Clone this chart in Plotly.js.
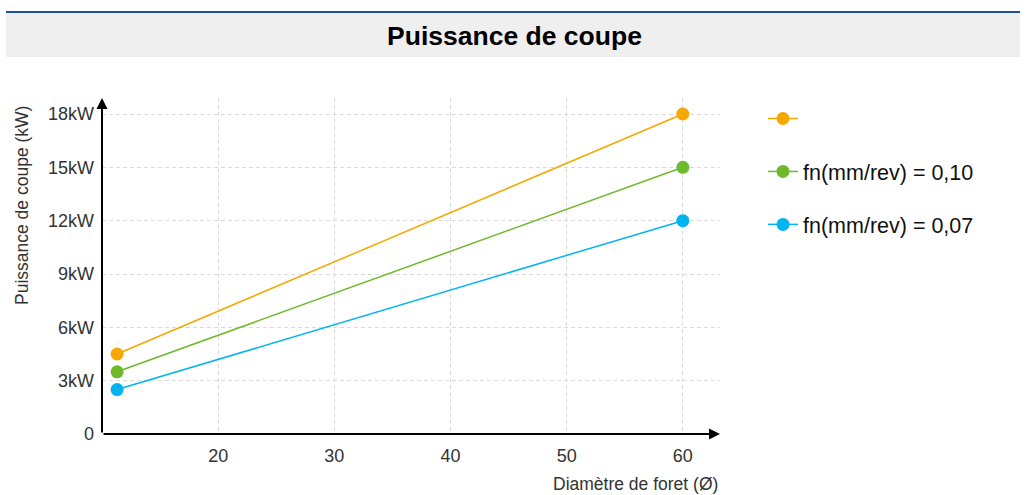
<!DOCTYPE html>
<html>
<head>
<meta charset="utf-8">
<script src="https://cdn.plot.ly/plotly-3.0.1.min.js"></script>
<style>html,body{margin:0;padding:0;background:#fff;}#chart{width:1029px;height:495px;}</style>
</head>
<body>
<div id="chart"></div>
<script>
const diameters = [11.3, 60];
const seriesNames = ['', 'fn(mm/rev) = 0,10', 'fn(mm/rev) = 0,07'];
const seriesValues = [
  [4.5, 18],
  [3.5, 15],
  [2.5, 12]
];
const seriesColors = ['#f7a800', '#6fb92c', '#00b4ef'];
const yTickVals = [0, 3, 6, 9, 12, 15, 18];
const yTickText = ['0', '3kW', '6kW', '9kW', '12kW', '15kW', '18kW'];
const xTickVals = [20, 30, 40, 50, 60];

const FONT = '"Liberation Sans", Arial, Helvetica, sans-serif';
const L = 102, R = 1029 - 720, T = 98, B = 495 - 434;
const PW = 1029 - L - R, PH = 495 - T - B;
const px = v => (v - L) / PW;
const py = v => 1 - (v - T) / PH;

const traces = seriesValues.map((vals, i) => ({
  type: 'scatter',
  mode: 'lines+markers',
  x: diameters,
  y: vals,
  name: seriesNames[i] === '' ? ' ' : seriesNames[i],
  legendgroup: 'g' + i,
  line: {color: seriesColors[i], width: 1.5},
  marker: {color: seriesColors[i], size: 13},
  cliponaxis: false
}));

const layout = {
  width: 1029, height: 495,
  margin: {l: L, r: R, t: T, b: B, pad: 0},
  paper_bgcolor: '#ffffff', plot_bgcolor: '#ffffff',
  font: {family: FONT, color: '#333333'},
  title: {text: 'Puissance de coupe', font: {family: FONT, size: 26.5, color: '#000', weight: 'bold'},
          x: 0.5, xanchor: 'center', y: 1 - 36 / 495, yanchor: 'middle', xref: 'container', yref: 'container'},
  xaxis: {
    range: [10, 63.2], tickvals: xTickVals, ticktext: xTickVals.map(String),
    showgrid: true, gridcolor: '#dadada', griddash: '4px,3px', gridwidth: 1,
    zeroline: false, showline: false, ticks: '', ticklabelstandoff: 9,
    tickfont: {size: 18, color: '#333'}, fixedrange: true
  },
  yaxis: {
    range: [0, 18.9], tickvals: yTickVals, ticktext: yTickText,
    showgrid: true, gridcolor: '#dadada', griddash: '4px,3px', gridwidth: 1,
    zeroline: false, showline: false, ticks: '', ticklabelstandoff: 7,
    tickfont: {size: 18, color: '#333'}, fixedrange: true
  },
  showlegend: true,
  legend: {
    x: px(763), y: py(98), xanchor: 'left', yanchor: 'top',
    font: {size: 21.5, color: '#111', family: FONT},
    tracegroupgap: 22, bgcolor: 'rgba(0,0,0,0)', traceorder: 'grouped'
  },
  shapes: [
    {type: 'rect', xref: 'paper', yref: 'paper', x0: px(6), x1: px(1020), y0: py(57), y1: py(13),
     fillcolor: '#efefef', line: {width: 0}, layer: 'below'},
    {type: 'line', xref: 'paper', yref: 'paper', x0: px(6), x1: px(1020), y0: py(12), y1: py(12),
     line: {color: '#1f4f9e', width: 2}}
  ],
  annotations: [
    {xref: 'paper', yref: 'paper', x: 1, y: 0, ax: -PW, ay: 0, axref: 'pixel', ayref: 'pixel',
     text: '', showarrow: true, arrowhead: 2, arrowsize: 1.1, arrowwidth: 2, arrowcolor: '#000', standoff: 0},
    {xref: 'paper', yref: 'paper', x: 0, y: 1, ax: 0, ay: PH, axref: 'pixel', ayref: 'pixel',
     text: '', showarrow: true, arrowhead: 2, arrowsize: 1.1, arrowwidth: 2, arrowcolor: '#000', standoff: 0},
    {xref: 'paper', yref: 'paper', x: 1, y: py(484), xanchor: 'right', yanchor: 'middle',
     text: 'Diamètre de foret (Ø)', showarrow: false, font: {size: 17.5, color: '#333', family: FONT}},
    {xref: 'paper', yref: 'paper', x: px(22), y: py(206), xanchor: 'center', yanchor: 'middle',
     text: 'Puissance de coupe (kW)', textangle: -90, showarrow: false, font: {size: 17.5, color: '#333', family: FONT}}
  ]
};

Plotly.newPlot('chart', traces, layout, {displayModeBar: false, staticPlot: true});
</script>
</body>
</html>
